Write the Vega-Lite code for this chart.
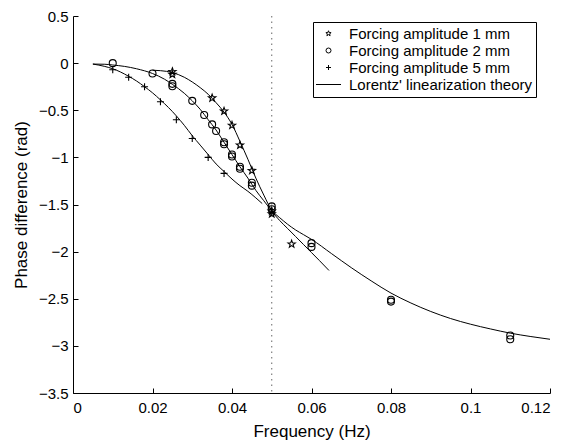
{
  "$schema": "https://vega.github.io/schema/vega-lite/v6.json",
  "width": 477,
  "height": 377,
  "autosize": {"type": "none"},
  "padding": {"left": 73, "top": 16, "right": 17, "bottom": 52},
  "background": "white",
  "config": {
    "view": {"stroke": null},
    "font": "Liberation Sans",
    "axis": {
      "grid": false,
      "domainColor": "black",
      "tickColor": "black",
      "labelColor": "black",
      "titleColor": "black",
      "labelFont": "Liberation Sans",
      "titleFont": "Liberation Sans",
      "labelFontSize": 15,
      "titleFontSize": 17,
      "titleFontWeight": "normal",
      "tickSize": -5,
      "domainWidth": 1,
      "tickWidth": 1
    },
    "legend": {
      "labelFont": "Liberation Sans",
      "labelFontSize": 15,
      "labelColor": "black",
      "labelLimit": 400,
      "symbolSize": 25,
      "symbolStrokeWidth": 1,
      "rowPadding": 1,
      "padding": 4,
      "strokeColor": "black",
      "fillColor": "white",
      "cornerRadius": 0,
      "symbolOffset": 4,
      "labelOffset": 13
    }
  },
  "datasets": {
    "pts": [
      {"f": 0.025, "phase": -0.09, "series": "Forcing amplitude 1 mm"},
      {"f": 0.025, "phase": -0.12, "series": "Forcing amplitude 1 mm"},
      {"f": 0.035, "phase": -0.37, "series": "Forcing amplitude 1 mm"},
      {"f": 0.038, "phase": -0.51, "series": "Forcing amplitude 1 mm"},
      {"f": 0.040, "phase": -0.66, "series": "Forcing amplitude 1 mm"},
      {"f": 0.042, "phase": -0.87, "series": "Forcing amplitude 1 mm"},
      {"f": 0.045, "phase": -1.14, "series": "Forcing amplitude 1 mm"},
      {"f": 0.050, "phase": -1.57, "series": "Forcing amplitude 1 mm"},
      {"f": 0.050, "phase": -1.60, "series": "Forcing amplitude 1 mm"},
      {"f": 0.055, "phase": -1.92, "series": "Forcing amplitude 1 mm"},
      {"f": 0.010, "phase": 0.00, "series": "Forcing amplitude 2 mm"},
      {"f": 0.020, "phase": -0.11, "series": "Forcing amplitude 2 mm"},
      {"f": 0.025, "phase": -0.22, "series": "Forcing amplitude 2 mm"},
      {"f": 0.025, "phase": -0.245, "series": "Forcing amplitude 2 mm"},
      {"f": 0.030, "phase": -0.40, "series": "Forcing amplitude 2 mm"},
      {"f": 0.033, "phase": -0.55, "series": "Forcing amplitude 2 mm"},
      {"f": 0.035, "phase": -0.65, "series": "Forcing amplitude 2 mm"},
      {"f": 0.036, "phase": -0.72, "series": "Forcing amplitude 2 mm"},
      {"f": 0.038, "phase": -0.84, "series": "Forcing amplitude 2 mm"},
      {"f": 0.038, "phase": -0.86, "series": "Forcing amplitude 2 mm"},
      {"f": 0.040, "phase": -0.97, "series": "Forcing amplitude 2 mm"},
      {"f": 0.040, "phase": -0.99, "series": "Forcing amplitude 2 mm"},
      {"f": 0.042, "phase": -1.10, "series": "Forcing amplitude 2 mm"},
      {"f": 0.042, "phase": -1.12, "series": "Forcing amplitude 2 mm"},
      {"f": 0.045, "phase": -1.27, "series": "Forcing amplitude 2 mm"},
      {"f": 0.045, "phase": -1.30, "series": "Forcing amplitude 2 mm"},
      {"f": 0.050, "phase": -1.52, "series": "Forcing amplitude 2 mm"},
      {"f": 0.050, "phase": -1.55, "series": "Forcing amplitude 2 mm"},
      {"f": 0.060, "phase": -1.91, "series": "Forcing amplitude 2 mm"},
      {"f": 0.060, "phase": -1.95, "series": "Forcing amplitude 2 mm"},
      {"f": 0.080, "phase": -2.51, "series": "Forcing amplitude 2 mm"},
      {"f": 0.080, "phase": -2.53, "series": "Forcing amplitude 2 mm"},
      {"f": 0.110, "phase": -2.89, "series": "Forcing amplitude 2 mm"},
      {"f": 0.110, "phase": -2.93, "series": "Forcing amplitude 2 mm"},
      {"f": 0.010, "phase": -0.07, "series": "Forcing amplitude 5 mm"},
      {"f": 0.014, "phase": -0.15, "series": "Forcing amplitude 5 mm"},
      {"f": 0.018, "phase": -0.25, "series": "Forcing amplitude 5 mm"},
      {"f": 0.022, "phase": -0.41, "series": "Forcing amplitude 5 mm"},
      {"f": 0.026, "phase": -0.60, "series": "Forcing amplitude 5 mm"},
      {"f": 0.030, "phase": -0.80, "series": "Forcing amplitude 5 mm"},
      {"f": 0.034, "phase": -1.00, "series": "Forcing amplitude 5 mm"},
      {"f": 0.038, "phase": -1.17, "series": "Forcing amplitude 5 mm"},
      {"f": 0.050, "phase": -1.58, "series": "Forcing amplitude 5 mm"}
    ],
    "theory": [
      {"f": 0.005, "phase": -0.01, "curve": "c2"},
      {"f": 0.008, "phase": -0.012, "curve": "c2"},
      {"f": 0.010, "phase": -0.02, "curve": "c2"},
      {"f": 0.013, "phase": -0.035, "curve": "c2"},
      {"f": 0.016, "phase": -0.06, "curve": "c2"},
      {"f": 0.020, "phase": -0.11, "curve": "c2"},
      {"f": 0.023, "phase": -0.17, "curve": "c2"},
      {"f": 0.025, "phase": -0.225, "curve": "c2"},
      {"f": 0.028, "phase": -0.32, "curve": "c2"},
      {"f": 0.030, "phase": -0.40, "curve": "c2"},
      {"f": 0.032, "phase": -0.49, "curve": "c2"},
      {"f": 0.034, "phase": -0.60, "curve": "c2"},
      {"f": 0.036, "phase": -0.71, "curve": "c2"},
      {"f": 0.038, "phase": -0.84, "curve": "c2"},
      {"f": 0.040, "phase": -0.97, "curve": "c2"},
      {"f": 0.042, "phase": -1.10, "curve": "c2"},
      {"f": 0.044, "phase": -1.22, "curve": "c2"},
      {"f": 0.046, "phase": -1.35, "curve": "c2"},
      {"f": 0.048, "phase": -1.46, "curve": "c2"},
      {"f": 0.050, "phase": -1.565, "curve": "c2"},
      {"f": 0.052, "phase": -1.64, "curve": "c2"},
      {"f": 0.054, "phase": -1.71, "curve": "c2"},
      {"f": 0.056, "phase": -1.77, "curve": "c2"},
      {"f": 0.058, "phase": -1.82, "curve": "c2"},
      {"f": 0.060, "phase": -1.87, "curve": "c2"},
      {"f": 0.065, "phase": -2.02, "curve": "c2"},
      {"f": 0.070, "phase": -2.17, "curve": "c2"},
      {"f": 0.075, "phase": -2.31, "curve": "c2"},
      {"f": 0.080, "phase": -2.44, "curve": "c2"},
      {"f": 0.085, "phase": -2.545, "curve": "c2"},
      {"f": 0.090, "phase": -2.635, "curve": "c2"},
      {"f": 0.095, "phase": -2.71, "curve": "c2"},
      {"f": 0.100, "phase": -2.77, "curve": "c2"},
      {"f": 0.105, "phase": -2.82, "curve": "c2"},
      {"f": 0.110, "phase": -2.865, "curve": "c2"},
      {"f": 0.115, "phase": -2.90, "curve": "c2"},
      {"f": 0.120, "phase": -2.93, "curve": "c2"},
      {"f": 0.020, "phase": -0.075, "curve": "c1"},
      {"f": 0.022, "phase": -0.08, "curve": "c1"},
      {"f": 0.025, "phase": -0.10, "curve": "c1"},
      {"f": 0.028, "phase": -0.15, "curve": "c1"},
      {"f": 0.030, "phase": -0.20, "curve": "c1"},
      {"f": 0.032, "phase": -0.26, "curve": "c1"},
      {"f": 0.034, "phase": -0.33, "curve": "c1"},
      {"f": 0.036, "phase": -0.42, "curve": "c1"},
      {"f": 0.038, "phase": -0.52, "curve": "c1"},
      {"f": 0.040, "phase": -0.65, "curve": "c1"},
      {"f": 0.042, "phase": -0.83, "curve": "c1"},
      {"f": 0.044, "phase": -1.02, "curve": "c1"},
      {"f": 0.046, "phase": -1.22, "curve": "c1"},
      {"f": 0.048, "phase": -1.40, "curve": "c1"},
      {"f": 0.050, "phase": -1.565, "curve": "c1"},
      {"f": 0.052, "phase": -1.67, "curve": "c1"},
      {"f": 0.054, "phase": -1.755, "curve": "c1"},
      {"f": 0.056, "phase": -1.84, "curve": "c1"},
      {"f": 0.058, "phase": -1.925, "curve": "c1"},
      {"f": 0.060, "phase": -2.01, "curve": "c1"},
      {"f": 0.062, "phase": -2.095, "curve": "c1"},
      {"f": 0.0644, "phase": -2.20, "curve": "c1"},
      {"f": 0.005, "phase": -0.01, "curve": "c5"},
      {"f": 0.008, "phase": -0.035, "curve": "c5"},
      {"f": 0.010, "phase": -0.06, "curve": "c5"},
      {"f": 0.012, "phase": -0.095, "curve": "c5"},
      {"f": 0.014, "phase": -0.14, "curve": "c5"},
      {"f": 0.016, "phase": -0.19, "curve": "c5"},
      {"f": 0.018, "phase": -0.25, "curve": "c5"},
      {"f": 0.020, "phase": -0.315, "curve": "c5"},
      {"f": 0.022, "phase": -0.39, "curve": "c5"},
      {"f": 0.024, "phase": -0.47, "curve": "c5"},
      {"f": 0.026, "phase": -0.56, "curve": "c5"},
      {"f": 0.028, "phase": -0.66, "curve": "c5"},
      {"f": 0.030, "phase": -0.77, "curve": "c5"},
      {"f": 0.032, "phase": -0.87, "curve": "c5"},
      {"f": 0.034, "phase": -0.97, "curve": "c5"},
      {"f": 0.036, "phase": -1.07, "curve": "c5"},
      {"f": 0.038, "phase": -1.15, "curve": "c5"},
      {"f": 0.040, "phase": -1.23, "curve": "c5"},
      {"f": 0.042, "phase": -1.30, "curve": "c5"},
      {"f": 0.044, "phase": -1.36, "curve": "c5"},
      {"f": 0.046, "phase": -1.43, "curve": "c5"},
      {"f": 0.0476, "phase": -1.49, "curve": "c5"}
    ],
    "res": [{"f": 0.05}]
  },
  "layer": [
    {
      "data": {"name": "res"},
      "mark": {"type": "rule", "color": "#666666", "strokeWidth": 1, "strokeDash": [1.5, 4]},
      "encoding": {
        "x": {"field": "f", "type": "quantitative", "scale": {"domain": [0, 0.12], "nice": false}}
      }
    },
    {
      "data": {"name": "theory"},
      "mark": {"type": "line", "color": "black", "strokeWidth": 1, "interpolate": "monotone"},
      "encoding": {
        "x": {"field": "f", "type": "quantitative", "scale": {"domain": [0, 0.12], "nice": false}},
        "y": {"field": "phase", "type": "quantitative", "scale": {"domain": [-3.5, 0.5], "nice": false}},
        "detail": {"field": "curve", "type": "nominal"}
      }
    },
    {
      "data": {"name": "pts"},
      "mark": {"type": "point", "filled": false, "color": "black", "strokeWidth": 1.1, "size": 49, "opacity": 1},
      "encoding": {
        "x": {
          "field": "f", "type": "quantitative",
          "scale": {"domain": [0, 0.12], "nice": false},
          "axis": {"values": [0, 0.02, 0.04, 0.06, 0.08, 0.1, 0.12], "format": "~g", "title": "Frequency (Hz)", "labelPadding": 12, "titlePadding": 8}
        },
        "y": {
          "field": "phase", "type": "quantitative",
          "scale": {"domain": [-3.5, 0.5], "nice": false},
          "axis": {"values": [0.5, 0, -0.5, -1, -1.5, -2, -2.5, -3, -3.5], "format": "~g", "title": "Phase difference (rad)", "labelPadding": 10, "titlePadding": 8}
        },
        "shape": {
          "field": "series", "type": "nominal",
          "scale": {
            "domain": ["Forcing amplitude 1 mm", "Forcing amplitude 2 mm", "Forcing amplitude 5 mm", "Lorentz' linearization theory"],
            "range": [
              "M0,-1.1L0.264,-0.364L1.046,-0.34L0.428,0.139L0.647,0.89L0,0.45L-0.647,0.89L-0.428,0.139L-1.046,-0.34L-0.264,-0.364Z",
              "circle",
              "M-1,0L1,0M0,-1L0,1",
              "M-5,0L5,0"
            ]
          },
          "legend": {"title": null, "orient": "none", "legendX": 240, "legendY": 6}
        }
      }
    }
  ]
}
